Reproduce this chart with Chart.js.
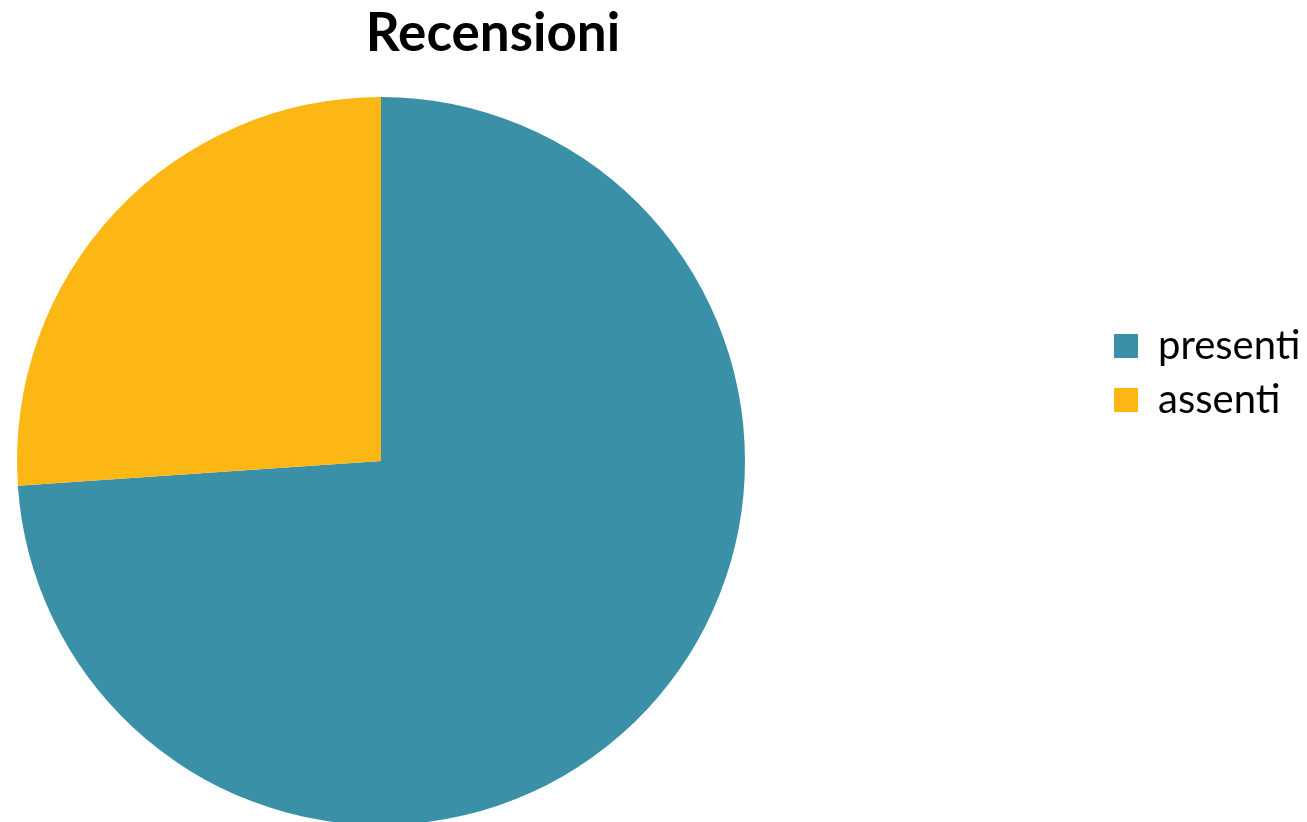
<!DOCTYPE html>
<html><head><meta charset="utf-8">
<script src="https://cdn.jsdelivr.net/npm/chart.js@4"></script>
<style>html,body{margin:0;padding:0;background:#fff;} #wrap{width:1307px;height:822px;position:relative;}</style>
</head><body><div id="wrap"><canvas id="c"></canvas></div>
<script>
const categories = ['presenti', 'assenti'];
const values = [17, 6];
const colors = ['#3A91A7', '#FDB714'];
const titleText = 'Recensioni';

const legendPlacer = {
  id: 'legendPlacer',
  beforeUpdate(chart) {
    const lg = chart.legend;
    if (lg && !lg._patched) {
      const origFit = lg.fit;
      lg.fit = function () { origFit.call(this); this.width = 224; };
      lg._patched = true;
    }
  },
  afterLayout(chart) {
    const lg = chart.legend;
    const dx = 1100 - lg.left;
    lg.left += dx; lg.right += dx;
    const dy = 373 - (lg.top + lg.bottom) / 2;
    lg.top += dy; lg.bottom += dy;
  }
};

function build() {
  new Chart(document.getElementById('c'), {
    type: 'pie',
    data: {
      labels: categories,
      datasets: [{ data: values, backgroundColor: colors, borderWidth: 0, radius: 364 }]
    },
    options: {
      responsive: true, maintainAspectRatio: false, animation: false,
      layout: { padding: { left: 0, right: 321, top: 0, bottom: 0 } },
      plugins: {
        title: { display: true, text: titleText, color: '#000',
          font: { family: 'Lato', size: 53, weight: 'bold', lineHeight: 1.2 },
          padding: { top: 2, bottom: 34.4 } },
        legend: { position: 'right', align: 'center',
          labels: { boxWidth: 24, boxHeight: 24, padding: 14, color: '#000',
            font: { family: 'Lato', size: 40 } } },
        tooltip: { enabled: false }
      }
    },
    plugins: [legendPlacer]
  });
}
Promise.all([
  document.fonts.load('bold 53px Lato'),
  document.fonts.load('40px Lato')
]).then(build, build);
</script>
</body></html>
